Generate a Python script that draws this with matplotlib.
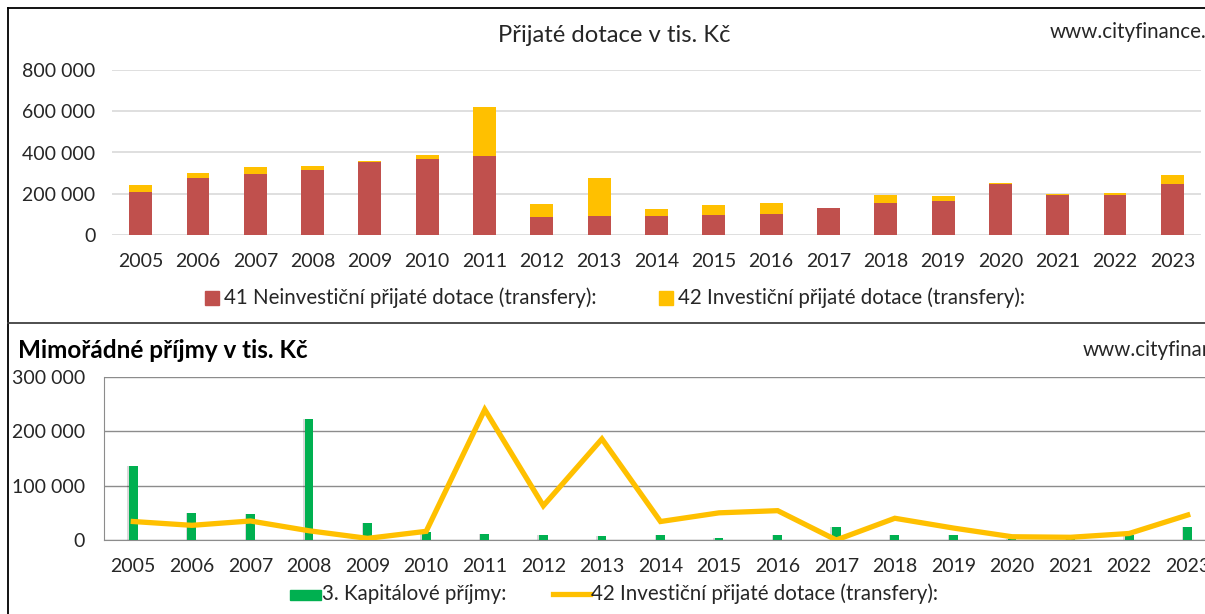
import matplotlib
matplotlib.use("Agg")
import matplotlib.pyplot as plt
from matplotlib.lines import Line2D
from matplotlib.patches import Rectangle
import numpy as np

years = [str(y) for y in range(2005, 2024)]
neinvesticni = [207, 274, 297, 316, 355, 370, 381, 87, 92, 92, 97, 103, 129, 155, 166, 245, 192, 192, 245]  # tis. Kč (thousands)
investicni = [34, 27, 35, 17, 3, 16, 240, 63, 186, 34, 50, 54, 0, 40, 22, 6, 5, 12, 46]
kapitalove = [137, 49, 47, 223, 31, 15, 11, 9, 7, 9, 3, 9, 24, 9, 9, 1, 1, 9, 24]

top_ticks = [0, 200000, 400000, 600000, 800000]
bot_ticks = [0, 100000, 200000, 300000]

RED = "#C0504D"
YEL = "#FFC000"
GRN = "#00B050"
TXT = "#262626"
FONT = ["Lato", "DejaVu Sans"]
plt.rcParams["font.family"] = FONT

W, H = 1205, 614
fig = plt.figure(figsize=(W / 100, H / 100), dpi=100)

TICK_FS = 14
LEG_FS = 14.8


def fx(px):
    return px / W


def fy(py):
    return 1 - py / H


def fmt(v):
    return f"{int(v):,}".replace(",", " ")


x = np.arange(len(years))
nei = np.array(neinvesticni) * 1000
inv = np.array(investicni) * 1000
kap = np.array(kapitalove) * 1000

# ---------- top chart ----------
ax1 = fig.add_axes([fx(112), fy(235), fx(1201) - fx(112), fy(70) - fy(235)])
ax1.bar(x, nei, width=0.4, color=RED, zorder=3)
ax1.bar(x, inv, width=0.4, bottom=nei, color=YEL, zorder=3)
ax1.set_xlim(-0.5, len(years) - 0.5)
ax1.set_ylim(0, 800000)
ax1.set_yticks(top_ticks)
ax1.set_yticklabels([fmt(v) for v in top_ticks])
ax1.set_xticks(x)
ax1.set_xticklabels(years)
ax1.grid(axis="y", color="#d9d9d9", linewidth=1.2, zorder=0)
for s in ax1.spines.values():
    s.set_visible(False)
ax1.tick_params(axis="both", length=0, labelsize=TICK_FS, colors=TXT)
ax1.tick_params(axis="x", pad=13)
ax1.tick_params(axis="y", pad=12)

fig.text(fx(614), fy(35), "Přijaté dotace v tis. Kč", ha="center", va="center",
         fontsize=17.2, color=TXT)
fig.text(fx(1050), fy(32), "www.cityfinance.cz", ha="left", va="center",
         fontsize=LEG_FS, color=TXT)

# legend top
fig.patches.append(Rectangle((fx(205), fy(305)), fx(14), fy(291) - fy(305),
                             transform=fig.transFigure, color=RED, figure=fig))
fig.text(fx(224), fy(298), "41 Neinvestiční přijaté dotace (transfery):", ha="left",
         va="center", fontsize=LEG_FS, color=TXT)
fig.patches.append(Rectangle((fx(659), fy(305)), fx(14), fy(291) - fy(305),
                             transform=fig.transFigure, color=YEL, figure=fig))
fig.text(fx(678), fy(298), "42 Investiční přijaté dotace (transfery):", ha="left",
         va="center", fontsize=LEG_FS, color=TXT)

# ---------- bottom chart ----------
ax2 = fig.add_axes([fx(104), fy(540), fx(1217) - fx(104), fy(377) - fy(540)])
ax2.bar(x - 0.025, kap, width=0.15, color="#000000", alpha=0.15, zorder=2)
ax2.bar(x, kap, width=0.15, color=GRN, zorder=3)
ax2.plot(x, inv, color=YEL, linewidth=3.8, zorder=4, solid_joinstyle="miter")
ax2.set_xlim(-0.5, len(years) - 0.5)
ax2.set_ylim(0, 300000)
ax2.set_yticks(bot_ticks)
ax2.set_yticklabels([fmt(v) for v in bot_ticks])
ax2.set_xticks(x)
ax2.set_xticklabels(years)
ax2.grid(axis="y", color="#8c8c8c", linewidth=1.0, zorder=0)
ax2.spines["top"].set_visible(False)
ax2.spines["right"].set_visible(False)
ax2.spines["left"].set_color("#8c8c8c")
ax2.spines["bottom"].set_color("#8c8c8c")
ax2.tick_params(axis="both", length=0, labelsize=TICK_FS, colors=TXT)
ax2.tick_params(axis="x", pad=13)
ax2.tick_params(axis="y", pad=13.5)

fig.text(fx(18), fy(350), "Mimořádné příjmy v tis. Kč", ha="left", va="center",
         fontsize=17.5, fontweight="bold", color="#000000")
fig.text(fx(1083), fy(350), "www.cityfinance.cz", ha="left", va="center",
         fontsize=LEG_FS, color=TXT)

# legend bottom
fig.patches.append(Rectangle((fx(290), fy(600)), fx(31), fy(590) - fy(600),
                             transform=fig.transFigure, color=GRN, figure=fig))
fig.text(fx(322), fy(594), "3. Kapitálové příjmy:", ha="left", va="center",
         fontsize=LEG_FS, color=TXT)
fig.lines.append(Line2D([fx(553), fx(590)], [fy(594), fy(594)], transform=fig.transFigure,
                        color=YEL, linewidth=3.8, figure=fig))
fig.text(fx(591), fy(594), "42 Investiční přijaté dotace (transfery):", ha="left",
         va="center", fontsize=LEG_FS, color=TXT)

# frame lines
fig.lines.append(Line2D([fx(8), fx(8)], [fy(8), 0], transform=fig.transFigure,
                        color="#000000", linewidth=1.3, figure=fig))
fig.lines.append(Line2D([fx(8), 1], [fy(8), fy(8)], transform=fig.transFigure,
                        color="#000000", linewidth=1.3, figure=fig))
fig.lines.append(Line2D([fx(8), 1], [fy(323), fy(323)], transform=fig.transFigure,
                        color="#404040", linewidth=1.3, figure=fig))

fig.savefig("out.png", dpi=100)
